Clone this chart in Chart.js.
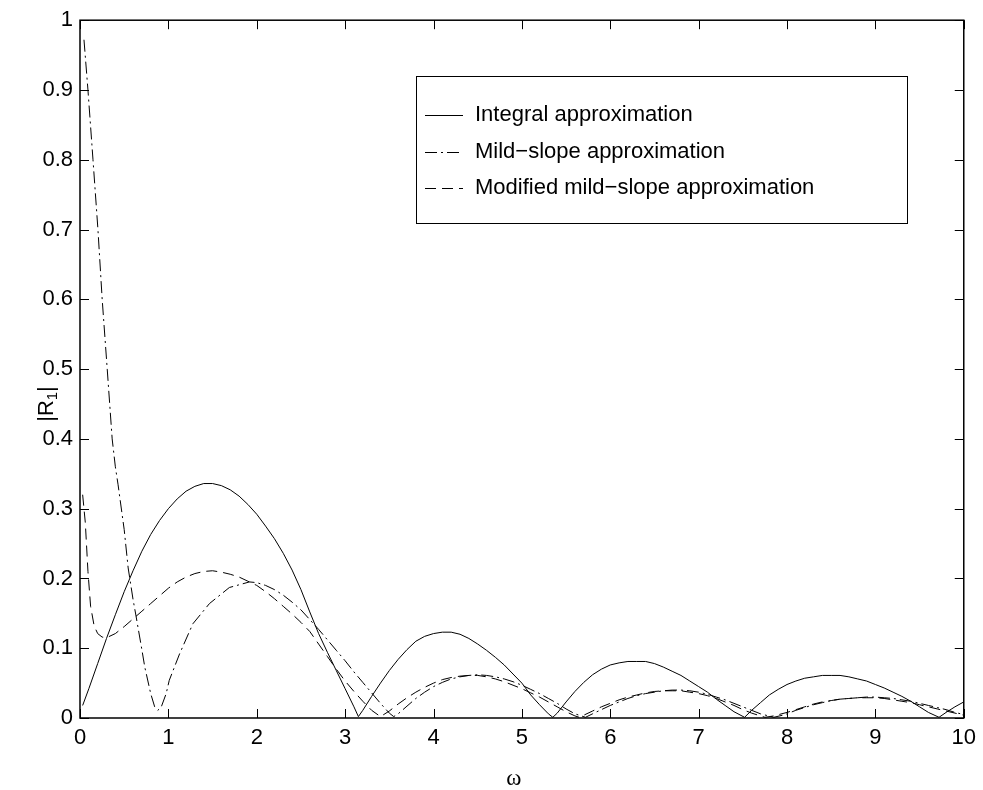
<!DOCTYPE html>
<html>
<head>
<meta charset="utf-8">
<script src="https://cdn.jsdelivr.net/npm/chart.js@4.4.1/dist/chart.umd.min.js"></script>
<style>
  html, body { margin: 0; padding: 0; background: #fff; }
</style>
</head>
<body>
<canvas id="chartReflection" width="983" height="790"></canvas>
<script>
// values, |R1| against omega
var seriesNames = ['Integral approximation', 'Mild\u2212slope approximation', 'Modified mild\u2212slope approximation'];

var integralOmega = [0.03, 0.1, 0.2, 0.3, 0.4, 0.5, 0.6, 0.7, 0.8, 0.9, 1.0, 1.1, 1.2, 1.3, 1.4, 1.5, 1.6, 1.7, 1.8, 1.9,
  2.0, 2.1, 2.2, 2.3, 2.4, 2.5, 2.6, 2.7, 2.8, 2.9, 3.0, 3.1, 3.15,
  3.2, 3.3, 3.4, 3.5, 3.6, 3.7, 3.8, 3.9, 4.0, 4.1, 4.2, 4.3, 4.4, 4.5, 4.6, 4.7, 4.8, 4.9, 5.0, 5.1, 5.2, 5.3, 5.35,
  5.4, 5.5, 5.6, 5.7, 5.8, 5.9, 6.0, 6.1, 6.2, 6.3, 6.4, 6.5, 6.6, 6.7, 6.8, 6.9, 7.0, 7.1, 7.2, 7.3, 7.4, 7.52,
  7.6, 7.7, 7.8, 7.9, 8.0, 8.1, 8.2, 8.3, 8.4, 8.5, 8.6, 8.7, 8.8, 8.9, 9.0, 9.1, 9.2, 9.3, 9.4, 9.5, 9.6, 9.72,
  9.8, 9.9, 10.0];
var integralR = [0.018, 0.042, 0.078, 0.114, 0.148, 0.181, 0.211, 0.239, 0.263, 0.283, 0.300, 0.314, 0.325, 0.332, 0.336, 0.336, 0.333, 0.327, 0.318, 0.306,
  0.292, 0.275, 0.257, 0.236, 0.212, 0.184, 0.152, 0.121, 0.094, 0.068, 0.042, 0.016, 0.002,
  0.011, 0.031, 0.050, 0.068, 0.084, 0.098, 0.110, 0.117, 0.121, 0.123, 0.123, 0.120, 0.114, 0.106, 0.097, 0.087, 0.076, 0.063, 0.050, 0.033, 0.019, 0.006, 0.001,
  0.007, 0.023, 0.038, 0.051, 0.062, 0.070, 0.076, 0.079, 0.081, 0.081, 0.081, 0.078, 0.073, 0.067, 0.061, 0.053, 0.045, 0.037, 0.027, 0.018, 0.009, 0.001,
  0.011, 0.022, 0.033, 0.041, 0.048, 0.053, 0.057, 0.059, 0.061, 0.061, 0.061, 0.059, 0.056, 0.053, 0.048, 0.043, 0.037, 0.031, 0.024, 0.016, 0.008, 0.001,
  0.008, 0.016, 0.023];

var mildOmega = [0.045, 0.09, 0.147, 0.203, 0.251, 0.308, 0.364, 0.40, 0.43, 0.5, 0.545, 0.6, 0.63, 0.7, 0.733, 0.8, 0.845, 0.88,
  0.92, 0.975, 1.01, 1.127, 1.277, 1.465, 1.69, 1.917, 2.0, 2.1, 2.2, 2.3, 2.4, 2.5, 2.6, 2.7, 2.8, 2.9, 3.0, 3.1, 3.2, 3.3, 3.4, 3.5, 3.55,
  3.6, 3.7, 3.8, 3.9, 4.0, 4.1, 4.2, 4.3, 4.4, 4.5, 4.6, 4.7, 4.8, 4.9, 5.0, 5.1, 5.2, 5.3, 5.4, 5.5, 5.6, 5.72,
  5.8, 5.9, 6.0, 6.1, 6.2, 6.3, 6.4, 6.5, 6.6, 6.7, 6.8, 6.9, 7.0, 7.1, 7.2, 7.3, 7.4, 7.5, 7.6, 7.7, 7.85,
  7.95, 8.0, 8.1, 8.2, 8.3, 8.4, 8.5, 8.6, 8.7, 8.8, 8.9, 9.0, 9.1, 9.2, 9.3, 9.4, 9.5, 9.6, 9.7, 9.8, 9.9, 10.0];
var mildR = [0.972, 0.9, 0.8, 0.7, 0.6, 0.5, 0.4, 0.36, 0.335, 0.27, 0.215, 0.17, 0.149, 0.098, 0.073, 0.035, 0.016, 0.011,
  0.016, 0.035, 0.054, 0.092, 0.135, 0.164, 0.187, 0.195, 0.194, 0.190, 0.184, 0.176, 0.166, 0.155, 0.141, 0.127, 0.112, 0.097, 0.082, 0.066, 0.051, 0.036, 0.021, 0.007, 0.002,
  0.006, 0.017, 0.028, 0.037, 0.045, 0.051, 0.056, 0.059, 0.061, 0.062, 0.061, 0.059, 0.056, 0.052, 0.047, 0.041, 0.035, 0.028, 0.021, 0.013, 0.006, 0.001,
  0.006, 0.012, 0.018, 0.023, 0.028, 0.032, 0.035, 0.037, 0.039, 0.040, 0.040, 0.039, 0.037, 0.034, 0.030, 0.026, 0.021, 0.016, 0.011, 0.006, 0.001,
  0.004, 0.006, 0.011, 0.015, 0.019, 0.022, 0.025, 0.027, 0.028, 0.029, 0.030, 0.030, 0.029, 0.028, 0.026, 0.024, 0.021, 0.018, 0.015, 0.012, 0.008, 0.005];

var modifiedOmega = [0.03, 0.06, 0.09, 0.12, 0.16, 0.2, 0.25, 0.3, 0.4, 0.5, 0.6, 0.7, 0.8, 0.9, 1.0, 1.1, 1.2, 1.3, 1.4, 1.5, 1.6, 1.7, 1.8, 1.9,
  2.0, 2.1, 2.2, 2.3, 2.4, 2.5, 2.6, 2.7, 2.8, 2.9, 3.0, 3.1, 3.2, 3.3, 3.4,
  3.5, 3.6, 3.7, 3.8, 3.9, 4.0, 4.1, 4.2, 4.3, 4.4, 4.5, 4.6, 4.7, 4.8, 4.9, 5.0, 5.1, 5.2, 5.3, 5.4, 5.5, 5.6, 5.65,
  5.7, 5.8, 5.9, 6.0, 6.1, 6.2, 6.3, 6.4, 6.5, 6.6, 6.7, 6.8, 6.9, 7.0, 7.1, 7.2, 7.3, 7.4, 7.5, 7.6, 7.75,
  7.85, 8.0, 8.1, 8.2, 8.3, 8.4, 8.5, 8.6, 8.7, 8.8, 8.9, 9.0, 9.1, 9.2, 9.3, 9.4, 9.5, 9.6, 9.7, 9.8, 9.9, 10.0];
var modifiedR = [0.32, 0.28, 0.21, 0.16, 0.132, 0.121, 0.116, 0.115, 0.121, 0.131, 0.142, 0.153, 0.164, 0.175, 0.186, 0.195, 0.202, 0.207, 0.210, 0.211, 0.209, 0.206, 0.202, 0.196,
  0.190, 0.181, 0.171, 0.160, 0.149, 0.137, 0.124, 0.106, 0.088, 0.070, 0.053, 0.038, 0.024, 0.011, 0.002,
  0.010, 0.020, 0.029, 0.037, 0.044, 0.050, 0.055, 0.058, 0.060, 0.061, 0.061, 0.059, 0.056, 0.052, 0.047, 0.042, 0.036, 0.030, 0.023, 0.016, 0.009, 0.003, 0.001,
  0.004, 0.010, 0.016, 0.021, 0.026, 0.030, 0.033, 0.036, 0.038, 0.039, 0.039, 0.039, 0.037, 0.035, 0.032, 0.028, 0.023, 0.018, 0.012, 0.007, 0.001,
  0.003, 0.008, 0.012, 0.016, 0.020, 0.023, 0.025, 0.027, 0.028, 0.029, 0.029, 0.029, 0.028, 0.026, 0.024, 0.022, 0.019, 0.016, 0.013, 0.010, 0.007, 0.004];

var xTickValues = [0, 1, 2, 3, 4, 5, 6, 7, 8, 9, 10];
var yTickValues = [0, 0.1, 0.2, 0.3, 0.4, 0.5, 0.6, 0.7, 0.8, 0.9, 1];
var xLabel = '\u03c9';
var yLabelMain = '|R';
var yLabelSub = '1';

var lineDashes = [[], [12, 4, 2, 4], [11, 6]];
var sansFont = '"Liberation Sans", Arial, Helvetica, sans-serif';

toPoints = function(xs, ys) {
  return xs.map(function(x, i) { return {x: x, y: ys[i]}; });
};

makeDataset = function(i, xs, ys) {
  return {
    label: seriesNames[i],
    data: toPoints(xs, ys),
    borderColor: '#000',
    borderWidth: 1,
    borderDash: lineDashes[i],
    pointRadius: 0,
    tension: 0,
    fill: false
  };
};

// matlab style box, inward ticks, legend inside the axes and axis labels
var matlabFrame = {
  id: 'matlabFrame',
  afterDraw: function(chart) {
    var ctx = chart.ctx, a = chart.chartArea;
    var xs = chart.scales.x, ys = chart.scales.y;
    var tickLen = 9;
    ctx.save();
    ctx.strokeStyle = '#000';
    ctx.lineWidth = 1;
    ctx.setLineDash([]);
    ctx.beginPath();
    xTickValues.forEach(function(v) {
      var px = Math.round(xs.getPixelForValue(v)) + 0.5;
      ctx.moveTo(px, a.bottom); ctx.lineTo(px, a.bottom - tickLen);
      ctx.moveTo(px, a.top); ctx.lineTo(px, a.top + tickLen);
    });
    yTickValues.forEach(function(v) {
      var py = Math.round(ys.getPixelForValue(v)) + 0.5;
      ctx.moveTo(a.left, py); ctx.lineTo(a.left + tickLen, py);
      ctx.moveTo(a.right, py); ctx.lineTo(a.right - tickLen, py);
    });
    ctx.stroke();
    ctx.lineWidth = 1.5;
    ctx.strokeRect(a.left, a.top, a.right - a.left, a.bottom - a.top);

    // legend box
    var lx = 416, ly = 76, lw = 491, lh = 147;
    ctx.fillStyle = '#fff';
    ctx.fillRect(lx, ly, lw, lh);
    ctx.lineWidth = 1;
    ctx.strokeRect(lx + 0.5, ly + 0.5, lw, lh);
    ctx.font = '22px ' + sansFont;
    ctx.textBaseline = 'middle';
    ctx.textAlign = 'left';
    chart.data.datasets.forEach(function(ds, i) {
      var rowY = ly + 39 + i * 36.5;
      ctx.beginPath();
      ctx.setLineDash(ds.borderDash);
      ctx.moveTo(lx + 9, Math.round(rowY) + 0.5);
      ctx.lineTo(lx + 47, Math.round(rowY) + 0.5);
      ctx.stroke();
      ctx.setLineDash([]);
      ctx.fillStyle = '#000';
      ctx.fillText(ds.label, lx + 59, rowY);
    });

    // axis labels
    ctx.fillStyle = '#000';
    ctx.font = '23px "Liberation Serif", "Times New Roman", serif';
    ctx.textAlign = 'center';
    ctx.fillText(xLabel, (a.left + a.right) / 2 - 8, 779);

    ctx.save();
    ctx.translate(47, 404);
    ctx.rotate(-Math.PI / 2);
    ctx.font = '22px ' + sansFont;
    var wMain = ctx.measureText(yLabelMain).width;
    ctx.font = '15px ' + sansFont;
    var wSub = ctx.measureText(yLabelSub).width;
    ctx.font = '22px ' + sansFont;
    var wBar = ctx.measureText('|').width;
    var x0 = -(wMain + wSub + wBar) / 2;
    ctx.textAlign = 'left';
    ctx.fillText(yLabelMain, x0, 0);
    ctx.font = '15px ' + sansFont;
    ctx.fillText(yLabelSub, x0 + wMain, 6);
    ctx.font = '22px ' + sansFont;
    ctx.fillText('|', x0 + wMain + wSub, 0);
    ctx.restore();

    ctx.restore();
  }
};

var config = {
  type: 'line',
  data: {
    datasets: [
      makeDataset(0, integralOmega, integralR),
      makeDataset(1, mildOmega, mildR),
      makeDataset(2, modifiedOmega, modifiedR)
    ]
  },
  options: {
    responsive: false,
    animation: false,
    devicePixelRatio: 1,
    layout: { padding: { top: 17, right: 16, left: 0, bottom: 0 } },
    plugins: { legend: { display: false }, tooltip: { enabled: false } },
    scales: {
      x: {
        type: 'linear',
        min: 0,
        max: 10,
        afterFit: function(scale) { scale.height = 72; },
        afterBuildTicks: function(scale) { scale.ticks = xTickValues.map(function(v) { return {value: v}; }); },
        grid: { display: false, drawTicks: false },
        border: { display: false },
        ticks: {
          color: '#000',
          padding: 7,
          maxRotation: 0,
          font: { family: sansFont, size: 22 },
          callback: function(v) { return String(+v.toFixed(1)); }
        }
      },
      y: {
        type: 'linear',
        min: 0,
        max: 1,
        afterFit: function(scale) { scale.width = 80; },
        afterBuildTicks: function(scale) { scale.ticks = yTickValues.map(function(v) { return {value: v}; }); },
        grid: { display: false, drawTicks: false },
        border: { display: false },
        ticks: {
          color: '#000',
          padding: 7,
          font: { family: sansFont, size: 22 },
          callback: function(v) { return String(+v.toFixed(1)); }
        }
      }
    }
  },
  plugins: [matlabFrame]
};

window.chartReflection = new Chart(document.getElementById('chartReflection').getContext('2d'), config);
</script>
</body>
</html>
